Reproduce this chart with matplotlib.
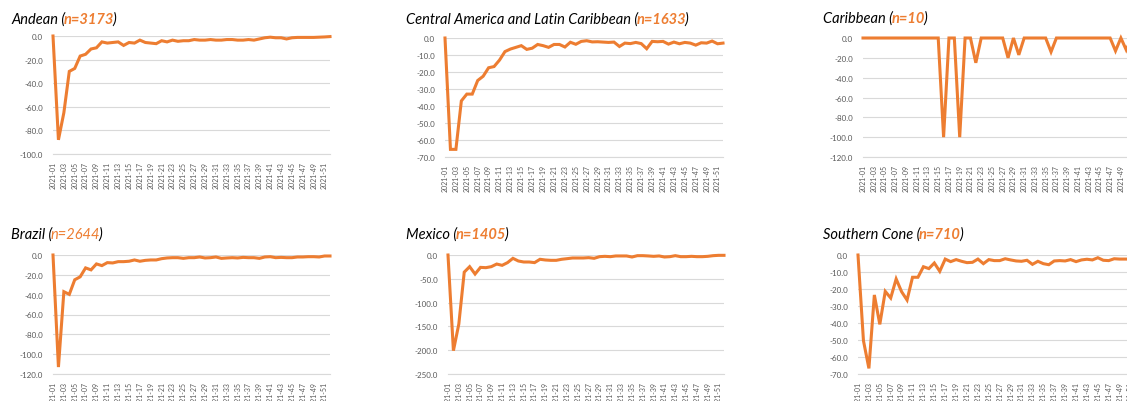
import matplotlib
matplotlib.use("Agg")
import matplotlib.pyplot as plt
import numpy as np

plt.rcParams['font.family'] = ['Lato', 'DejaVu Sans']

W, H = 1127, 402
ORANGE = '#ED7D31'
GREY = '#595959'
GRID = '#D9D9D9'

weeks = ['2021-%02d' % w for w in range(1, 53)]

andean = [0, -88, -65, -30, -27.5, -17, -15.5, -11, -10, -5,
          -6, -5.5, -5, -8, -5.5, -6, -3.5, -5.5, -6, -6.5,
          -4, -5, -3.5, -4.5, -4, -4, -3, -3.5, -3.5, -3,
          -3.5, -3.5, -3, -3, -3.5, -3.5, -3, -3.5, -2.5, -1.5,
          -1, -1.5, -1.5, -2.5, -1.5, -1.2, -1.2, -1.2, -1.2, -1,
          -0.8, -0.5]
central_am = [0, -65.5, -65.5, -37, -33, -33, -25, -22.5, -17.5, -16.8,
              -13, -8, -6.5, -5.5, -4.5, -6.7, -6, -3.8, -4.5, -5.5,
              -3.8, -3.8, -5.3, -2.5, -3.7, -2, -1.6, -2.3, -2.2, -2.4,
              -2.6, -2.4, -5, -3, -3.3, -2.6, -3.3, -6.3, -2, -2.2,
              -2, -3.6, -2.4, -3.4, -2.6, -3, -4.2, -2.8, -3, -1.8,
              -3.4, -3]
caribbean = [0, 0, 0, 0, 0, 0, 0, 0, 0, 0,
             0, 0, 0, 0, 0, -100, 0, 0, -100, 0,
             0, -25, 0, 0, 0, 0, 0, -20, 0, -17,
             0, 0, 0, 0, 0, -14, 0, 0, 0, 0,
             0, 0, 0, 0, 0, 0, 0, -13, 0, -12,
             0, 0]
brazil = [0, -113, -37, -39.7, -25, -22, -13, -15, -9, -10.7,
          -7.7, -8, -6.7, -6.7, -6.3, -5, -6.3, -5.4, -5, -5,
          -3.7, -3, -2.7, -2.7, -3.4, -2.7, -2.7, -2, -3, -2.7,
          -2, -3.4, -3, -2.7, -3, -2.4, -2.7, -2.7, -3.4, -2,
          -1.7, -2.7, -2.4, -2.7, -2.7, -2, -2, -1.7, -1.7, -2,
          -1, -1]
mexico = [0, -201, -145, -36, -24.5, -40, -26, -26.6, -24.5, -19,
          -21.7, -16, -7, -12.6, -14.7, -14.7, -16, -9, -10.5, -11.2,
          -11.2, -9, -7.7, -6.3, -6.3, -6.3, -5.6, -7, -3.5, -2.8,
          -3.5, -2, -2, -2, -4.2, -1.4, -1.4, -2, -2.8, -2,
          -4.2, -3.5, -1.4, -3.5, -3.5, -2.8, -3.5, -3.5, -2.8, -1.4,
          -0.7, -0.7]
southern_cone = [0, -50.4, -66.7, -23.5, -40.8, -21.4, -25.3, -14.1, -21.6, -26.5,
                 -13.1, -13.1, -6.9, -8, -4.7, -9.6, -2.4, -3.9, -2.7, -3.7,
                 -4.5, -4.3, -2.4, -5.1, -2.7, -3.3, -3.3, -2.2, -2.9, -3.5,
                 -3.7, -3.1, -5.5, -3.7, -5.1, -5.7, -3.5, -3.3, -3.5, -2.7,
                 -3.9, -2.9, -2.5, -2.9, -1.6, -3.1, -3.3, -2.2, -2.4, -2.4,
                 -2.4, -2.4]

# name, n, bold n, data, y min, y step, plot box (left, right, top, bottom) px, title pos px
panels = [
    ('Andean', 3173, True, andean, -100, 20, (53, 330, 37, 155), (11, 20)),
    ('Central America and Latin Caribbean', 1633, True, central_am, -70, 10, (445, 723, 39, 158), (406, 20)),
    ('Caribbean', 10, True, caribbean, -120, 20, (863, 1137, 39, 158), (823, 19)),
    ('Brazil', 2644, False, brazil, -120, 20, (53, 330, 256, 375), (11, 235)),
    ('Mexico', 1405, True, mexico, -250, 50, (448, 724, 256, 375), (406, 235)),
    ('Southern Cone', 710, True, southern_cone, -70, 10, (858, 1136, 256, 375), (823, 235)),
]

fig = plt.figure(figsize=(W / 100, H / 100), dpi=100)
renderer = fig.canvas.get_renderer()

for name, n, bold, vals, ymin, step, (l, r, t, b), (tx, ty) in panels:
    ax = fig.add_axes([l / W, 1 - b / H, (r - l) / W, (b - t) / H])
    x = np.arange(len(vals))
    ax.plot(x, vals, color=ORANGE, lw=2.2, clip_on=False, solid_joinstyle='miter')
    ax.set_xlim(0, len(vals) - 1)
    ax.set_ylim(ymin, 0)
    ax.set_yticks(np.arange(ymin, 0.1, step))
    ax.set_yticklabels(['%.1f' % v for v in np.arange(ymin, 0.1, step)])
    ax.set_xticks(x[::2])
    ax.set_xticklabels(weeks[::2], rotation=90)
    ax.tick_params(length=0, labelsize=5.8, labelcolor=GREY)
    ax.tick_params(axis='y', pad=7)
    ax.tick_params(axis='x', pad=5, labelsize=5)
    ax.grid(axis='y', color=GRID, lw=0.8)
    ax.set_axisbelow(True)
    for s in ['top', 'left', 'right']:
        ax.spines[s].set_visible(False)
    ax.spines['bottom'].set_color(GRID)
    ax.spines['bottom'].set_linewidth(0.8)

    # title in three pieces: name, n=..., closing bracket
    xpos = tx
    pieces = [(name + ' (', 'black', 'normal'),
              ('n=%d' % n, ORANGE, 'bold' if bold else 'normal'),
              (')', 'black', 'normal')]
    for txt, col, wt in pieces:
        tt = fig.text(xpos / W, 1 - ty / H, txt, color=col, fontsize=10.5,
                      style='italic', weight=wt, va='center', ha='left')
        xpos = tt.get_window_extent(renderer).x1 - 1.5

fig.savefig('out.png', dpi=100)
